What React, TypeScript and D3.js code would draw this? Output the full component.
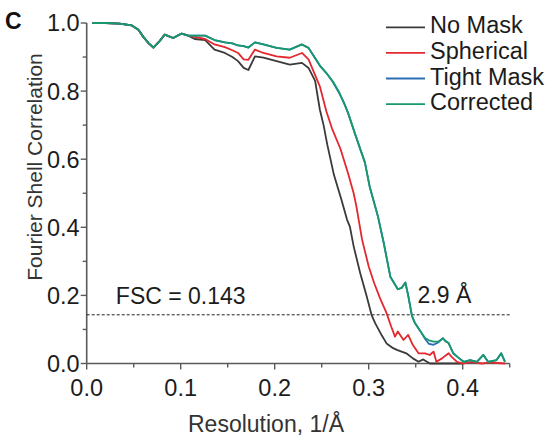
import React, { useEffect, useRef } from "react";
import * as d3 from "d3";

// axis ticks
const xMajor = [0, 0.1, 0.2, 0.3, 0.4];
const xMinor = [0.05, 0.15, 0.25, 0.35, 0.45];
const yMajor = [0, 0.2, 0.4, 0.6, 0.8, 1.0];
const yMinor = [0.1, 0.3, 0.5, 0.7, 0.9];

const legendLabels = ["No Mask", "Spherical", "Tight Mask", "Corrected"];
const colors = ["#3a3a3a", "#e3282e", "#2c6db4", "#17996c"];

const fscCutoff = 0.143;
const cutoffLabel = "FSC = 0.143";
const resLabel = "2.9 Å";

// low resolution part, all curves on top of each other
const head: [number, number][] = [
  [0.006, 1.0], [0.02, 1.0], [0.035, 0.998], [0.048, 0.993], [0.055, 0.98],
  [0.06, 0.96], [0.066, 0.94], [0.071, 0.928], [0.077, 0.945], [0.083, 0.966],
  [0.092, 0.956], [0.101, 0.969], [0.108, 0.963],
];

const noMask: [number, number][] = [
  [0.115, 0.953], [0.126, 0.95], [0.136, 0.922], [0.147, 0.912], [0.155, 0.9],
  [0.161, 0.888], [0.167, 0.868], [0.172, 0.862], [0.179, 0.902], [0.188, 0.898],
  [0.202, 0.888], [0.216, 0.878], [0.229, 0.883], [0.236, 0.868], [0.243, 0.83],
  [0.248, 0.746], [0.252, 0.7], [0.256, 0.642], [0.263, 0.554], [0.271, 0.481],
  [0.277, 0.422], [0.28, 0.402], [0.284, 0.344], [0.291, 0.265], [0.298, 0.196],
  [0.303, 0.143], [0.307, 0.118], [0.314, 0.082], [0.319, 0.059], [0.326, 0.045],
  [0.33, 0.04], [0.34, 0.03], [0.347, 0.015], [0.353, 0.005], [0.358, 0.012],
  [0.365, 0], [0.4, 0],
];

const spherical: [number, number][] = [
  [0.115, 0.959], [0.126, 0.953], [0.136, 0.937], [0.147, 0.929], [0.155, 0.92],
  [0.161, 0.912], [0.167, 0.893], [0.172, 0.892], [0.179, 0.922], [0.188, 0.912],
  [0.202, 0.902], [0.216, 0.898], [0.229, 0.912], [0.236, 0.893], [0.241, 0.86],
  [0.248, 0.814], [0.255, 0.74], [0.261, 0.69], [0.27, 0.63], [0.278, 0.559],
  [0.284, 0.5], [0.287, 0.46], [0.293, 0.363], [0.3, 0.285], [0.306, 0.235],
  [0.312, 0.192], [0.319, 0.148], [0.324, 0.108], [0.328, 0.079], [0.331, 0.094],
  [0.337, 0.069], [0.342, 0.084], [0.347, 0.054], [0.353, 0.03], [0.36, 0.03],
  [0.365, 0.025], [0.369, 0.035], [0.372, 0.005], [0.378, 0.015], [0.385, 0.03],
  [0.388, 0.02], [0.394, 0.005], [0.4, 0], [0.41, 0.005], [0.42, 0], [0.43, 0.003],
  [0.445, 0],
];

const tightMask: [number, number][] = [
  [0.115, 0.963], [0.126, 0.963], [0.136, 0.95], [0.147, 0.943], [0.155, 0.94],
  [0.161, 0.934], [0.167, 0.932], [0.172, 0.928], [0.179, 0.943], [0.188, 0.937],
  [0.202, 0.927], [0.216, 0.922], [0.229, 0.937], [0.236, 0.927], [0.241, 0.905],
  [0.248, 0.875], [0.255, 0.853], [0.262, 0.826], [0.269, 0.792], [0.274, 0.764],
  [0.278, 0.736], [0.286, 0.67], [0.296, 0.59], [0.301, 0.52], [0.305, 0.48],
  [0.31, 0.43], [0.316, 0.354], [0.323, 0.255], [0.331, 0.218], [0.335, 0.222],
  [0.339, 0.238], [0.342, 0.2], [0.346, 0.14], [0.349, 0.12], [0.355, 0.095],
  [0.36, 0.072], [0.364, 0.058], [0.369, 0.055], [0.374, 0.062], [0.379, 0.074],
  [0.382, 0.065], [0.385, 0.06], [0.39, 0.03], [0.395, 0.018], [0.401, 0.005],
  [0.408, 0.01], [0.415, 0.005], [0.422, 0.025], [0.427, 0.005], [0.436, 0.01],
  [0.441, 0.03], [0.445, 0.005],
];

const corrected: [number, number][] = [
  [0.115, 0.963], [0.126, 0.963], [0.136, 0.95], [0.147, 0.943], [0.155, 0.94],
  [0.161, 0.934], [0.167, 0.932], [0.172, 0.928], [0.179, 0.943], [0.188, 0.937],
  [0.202, 0.927], [0.216, 0.922], [0.229, 0.937], [0.236, 0.927], [0.241, 0.905],
  [0.248, 0.875], [0.255, 0.853], [0.262, 0.828], [0.268, 0.8], [0.273, 0.77],
  [0.278, 0.736], [0.286, 0.67], [0.296, 0.59], [0.301, 0.52], [0.305, 0.48],
  [0.31, 0.43], [0.316, 0.354], [0.323, 0.255], [0.331, 0.218], [0.335, 0.222],
  [0.339, 0.238], [0.342, 0.2], [0.346, 0.14], [0.349, 0.12], [0.355, 0.095],
  [0.36, 0.075], [0.364, 0.068], [0.369, 0.064], [0.374, 0.064], [0.379, 0.074],
  [0.382, 0.065], [0.385, 0.06], [0.39, 0.03], [0.395, 0.018], [0.401, 0.005],
  [0.408, 0.01], [0.415, 0.005], [0.422, 0.025], [0.427, 0.005], [0.436, 0.01],
  [0.441, 0.03], [0.445, 0.005],
];

const series = [noMask, spherical, tightMask, corrected];

const W = 551;
const H = 439;
const font = "'Liberation Sans', Arial, sans-serif";

export default function App() {
  const svgRef = useRef<SVGSVGElement>(null);

  useEffect(() => {
    const svg = d3.select(svgRef.current);
    svg.selectAll("*").remove();

    const x = d3.scaleLinear().domain([0, 0.45]).range([86.7, 509.7]);
    const y = d3.scaleLinear().domain([0, 1]).range([363.5, 23]);
    const axisColor = "#5a5a5a";
    const textColor = "#1c1c1c";

    // axes lines
    svg.append("line")
      .attr("x1", x(0)).attr("x2", x(0)).attr("y1", y(0)).attr("y2", y(1))
      .attr("stroke", axisColor).attr("stroke-width", 1.6);
    svg.append("line")
      .attr("x1", x(0)).attr("x2", x(0.45)).attr("y1", y(0)).attr("y2", y(0))
      .attr("stroke", axisColor).attr("stroke-width", 1.6);

    // y ticks
    svg.append("g").selectAll("line").data(yMajor.map(v => [v, 6]).concat(yMinor.map(v => [v, 4])))
      .join("line")
      .attr("x1", x(0)).attr("x2", d => x(0) - d[1])
      .attr("y1", d => y(d[0])).attr("y2", d => y(d[0]))
      .attr("stroke", axisColor).attr("stroke-width", 1.4);
    svg.append("g").selectAll("text").data(yMajor).join("text")
      .attr("x", x(0) - 7).attr("y", d => y(d)).attr("dy", "0.36em")
      .attr("text-anchor", "end").attr("font-family", font).attr("font-size", 23.5)
      .attr("fill", textColor).text(d => d.toFixed(1));

    // x ticks
    svg.append("g").selectAll("line").data(xMajor.map(v => [v, 6]).concat(xMinor.map(v => [v, 4])))
      .join("line")
      .attr("x1", d => x(d[0])).attr("x2", d => x(d[0]))
      .attr("y1", y(0)).attr("y2", d => y(0) + d[1])
      .attr("stroke", axisColor).attr("stroke-width", 1.4);
    svg.append("g").selectAll("text").data(xMajor).join("text")
      .attr("x", d => x(d)).attr("y", 396)
      .attr("text-anchor", "middle").attr("font-family", font).attr("font-size", 23.5)
      .attr("fill", textColor).text(d => d.toFixed(1));

    // axis titles
    svg.append("text")
      .attr("x", 266).attr("y", 432).attr("text-anchor", "middle")
      .attr("font-family", font).attr("font-size", 23).attr("fill", "#333")
      .text("Resolution, 1/Å");
    svg.append("text")
      .attr("transform", "translate(42,167) rotate(-90)").attr("text-anchor", "middle")
      .attr("font-family", font).attr("font-size", 21).attr("fill", "#333")
      .text("Fourier Shell Correlation");

    // panel letter
    svg.append("text")
      .attr("x", 5).attr("y", 29).attr("font-family", font).attr("font-weight", "bold")
      .attr("font-size", 23).attr("fill", "#111").text("C");

    // cutoff line
    svg.append("line")
      .attr("x1", x(0)).attr("x2", x(0.45)).attr("y1", y(fscCutoff)).attr("y2", y(fscCutoff))
      .attr("stroke", "#222").attr("stroke-width", 1).attr("stroke-dasharray", "3,2");
    svg.append("text")
      .attr("x", x(0.031)).attr("y", 304).attr("font-family", font).attr("font-size", 23)
      .attr("fill", textColor).text(cutoffLabel);
    svg.append("text")
      .attr("x", x(0.352)).attr("y", 303).attr("font-family", font).attr("font-size", 23)
      .attr("fill", textColor).text(resLabel);

    // curves
    const line = d3.line<[number, number]>()
      .x(d => x(d[0]))
      .y(d => y(d[1]));
    svg.append("g").selectAll("path").data(series).join("path")
      .attr("d", d => line(head.concat(d)))
      .attr("fill", "none")
      .attr("stroke", (d, i) => colors[i])
      .attr("stroke-width", 1.8)
      .attr("stroke-linejoin", "round");

    // legend
    const lg = svg.append("g").selectAll("g").data(legendLabels).join("g")
      .attr("transform", (d, i) => `translate(0, ${33.3 + i * 25.6})`);
    lg.append("line")
      .attr("x1", 386).attr("x2", 425).attr("y1", -6).attr("y2", -6)
      .attr("stroke", (d, i) => colors[i]).attr("stroke-width", 1.8);
    lg.append("text")
      .attr("x", 430).attr("y", 0).attr("font-family", font).attr("font-size", 23.5)
      .attr("fill", textColor).text(d => d);
  }, []);

  return (
    <svg
      ref={svgRef}
      width={W}
      height={H}
      style={{ position: "absolute", left: 0, top: 0, background: "white" }}
    />
  );
}
